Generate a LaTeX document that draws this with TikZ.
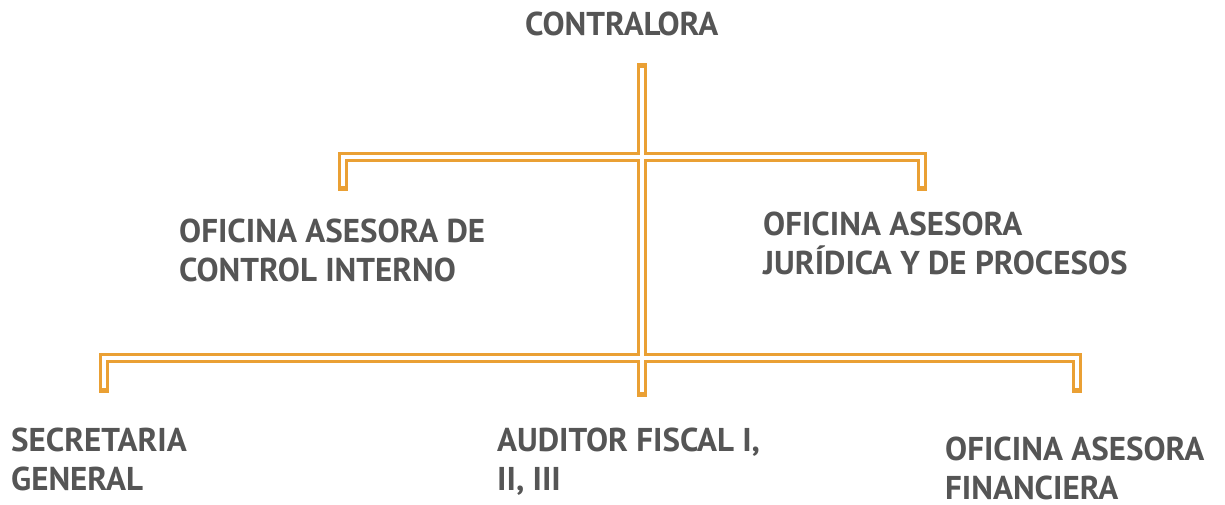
\documentclass[tikz,border=0pt]{standalone}
\usepackage{fontspec}
\setmainfont{PT Sans}
\definecolor{orgline}{RGB}{234,160,52}
\definecolor{txtgray}{RGB}{85,85,85}
\begin{document}
\begin{tikzpicture}[x=1pt,y=-1pt,
  lbl/.style={anchor=base west, inner sep=0pt, align=left, text=txtgray,
    font=\fontsize{33}{39}\selectfont\bfseries},
  outerln/.style={draw=orgline, line width=10pt, line cap=rect, line join=miter},
  innerln/.style={draw=white, line width=4pt, line cap=butt, line join=miter}]
\useasboundingbox[fill=white] (0,0) rectangle (1225,504);
\node[lbl] (contra) at (525,35) {CONTRALORA};
\node[lbl] (oci) at (179,281) {OFICINA ASESORA DE\\CONTROL INTERNO};
\node[lbl] (oaj) at (763,274) {OFICINA ASESORA\\JURÍDICA Y DE PROCESOS};
\node[lbl] (sec) at (11,490) {SECRETARIA\\GENERAL};
\node[lbl] (aud) at (497,490) {AUDITOR FISCAL I,\\II, III};
\node[lbl] (oaf) at (945,499) {OFICINA ASESORA\\FINANCIERA};
% junction coordinates
\coordinate (top) at (642,68);
\coordinate (bot) at (642,392);
\coordinate (uL) at (343,157);
\coordinate (uR) at (922,157);
\coordinate (uLe) at (343,186);
\coordinate (uRe) at (922,186);
\coordinate (lL) at (104,358);
\coordinate (lR) at (1077,358);
\coordinate (lLe) at (104,388);
\coordinate (lRe) at (1077,388);
\foreach \s in {outerln,innerln}{
  \path[\s] (top) -- (bot);
  \path[\s] (uLe) -- (uL) -- (uR) -- (uRe);
  \path[\s] (lLe) -- (lL) -- (lR) -- (lRe);
}
\end{tikzpicture}
\end{document}
